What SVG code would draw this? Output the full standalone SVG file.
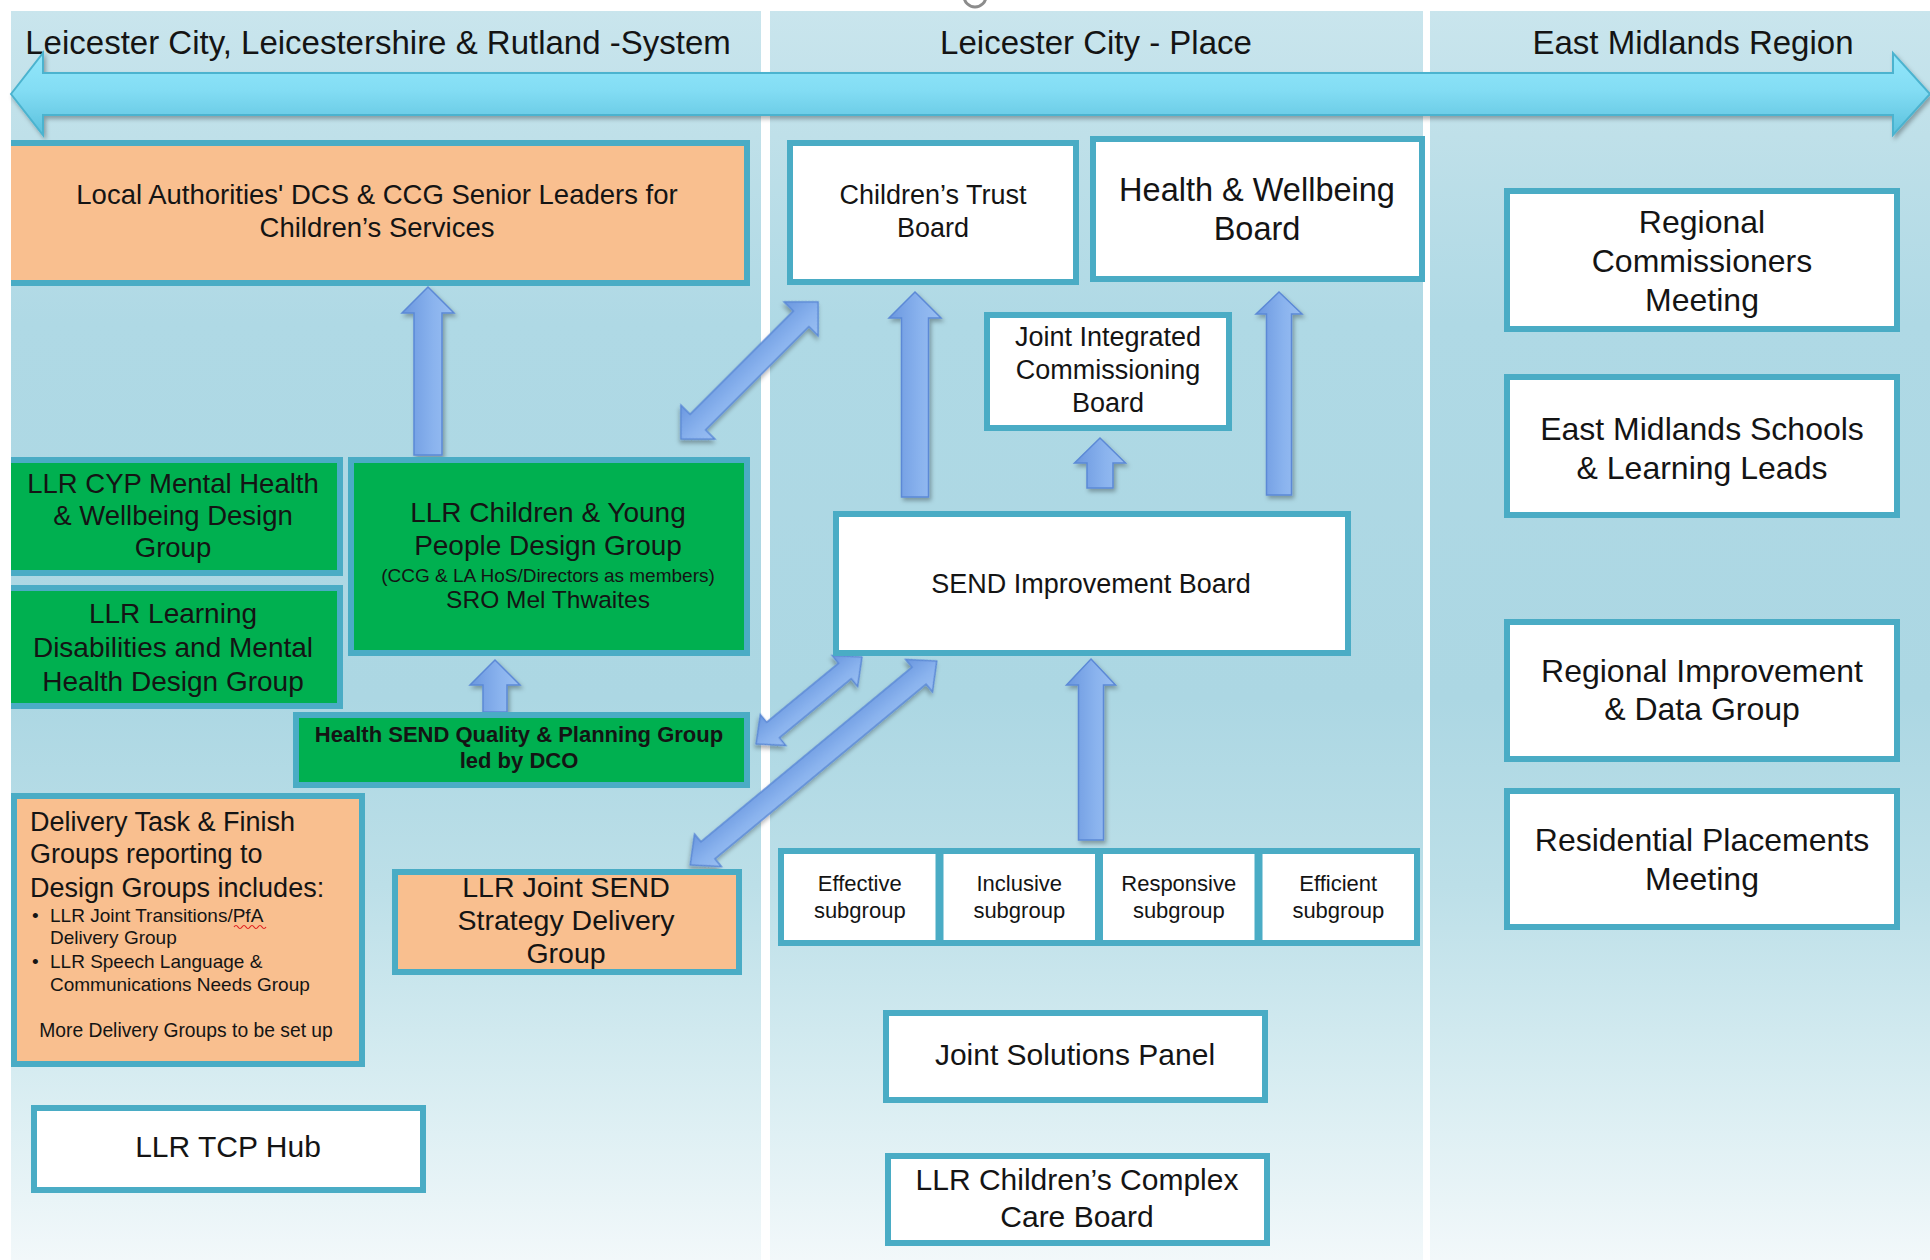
<svg xmlns="http://www.w3.org/2000/svg" width="1930" height="1260" viewBox="0 0 1930 1260">
<defs>
  <linearGradient id="panelGrad" gradientUnits="userSpaceOnUse" x1="0" y1="11" x2="0" y2="1260">
    <stop offset="0" stop-color="#c9e5ed"/>
    <stop offset="0.1" stop-color="#bfe0e9"/>
    <stop offset="0.25" stop-color="#afd9e5"/>
    <stop offset="0.55" stop-color="#acd7e3"/>
    <stop offset="0.7" stop-color="#bcdfe8"/>
    <stop offset="0.85" stop-color="#d6ecf1"/>
    <stop offset="1" stop-color="#f2f8fa"/>
  </linearGradient>
  <linearGradient id="bandGrad" x1="0" y1="0" x2="0" y2="1">
    <stop offset="0" stop-color="#93e7fb"/>
    <stop offset="0.45" stop-color="#83ddf4"/>
    <stop offset="1" stop-color="#5bc1dd"/>
  </linearGradient>
  <linearGradient id="arrowGrad" x1="0" y1="0" x2="1" y2="0">
    <stop offset="0" stop-color="#6a97df"/>
    <stop offset="0.6" stop-color="#8ab3ee"/>
    <stop offset="1" stop-color="#9abff2"/>
  </linearGradient>
  <filter id="shadow" x="-30%" y="-30%" width="160%" height="160%">
    <feDropShadow dx="2" dy="3" stdDeviation="2" flood-color="#000" flood-opacity="0.3"/>
  </filter>
  <clipPath id="clipL"><rect x="11" y="11" width="750" height="1249"/></clipPath>
</defs>
<style>
  .box{stroke:#4aacc5;stroke-width:6}
  .white{fill:#ffffff}
  .orange{fill:#f9bf8f}
  .green{fill:#00b050}
  .t{font-family:"Liberation Sans",Arial,sans-serif;fill:#141414;text-anchor:middle}
  .ts{font-family:"Liberation Sans",Arial,sans-serif;fill:#141414;text-anchor:start}
  .arrow{fill:url(#arrowGrad);stroke:#5b89d6;stroke-width:1.5;filter:url(#shadow)}
</style>

<rect x="0" y="0" width="1930" height="1260" fill="#ffffff"/>

<g id="panels">
  <rect x="11" y="11" width="750" height="1249" fill="url(#panelGrad)"/>
  <rect x="770" y="11" width="653" height="1249" fill="url(#panelGrad)"/>
  <rect x="1430" y="11" width="500" height="1249" fill="url(#panelGrad)"/>
  <circle cx="975" cy="-4" r="11" fill="none" stroke="#8c8c8c" stroke-width="3"/>
</g>

<g id="headers">
  <text class="t" x="378" y="54" font-size="33">Leicester City, Leicestershire &amp; Rutland -System</text>
  <text class="t" x="1096" y="54" font-size="33">Leicester City - Place</text>
  <text class="t" x="1693" y="54" font-size="33">East Midlands Region</text>
</g>

<g id="scope-arrow">
  <polygon points="11,94 43,53 43,73 1893,73 1893,53 1930,94 1893,135 1893,115 43,115 43,135" fill="url(#bandGrad)" stroke="#4cb3cf" stroke-width="2" filter="url(#shadow)"/>
</g>

<g id="connectors">
  <polygon class="arrow" points="428,287 454,313 442,313 442,455 414,455 414,313 402,313"/>
  <polygon class="arrow" points="915,292 941,318 928.5,318 928.5,497 901.5,497 901.5,318 889,318"/>
  <polygon class="arrow" points="1279,292 1302,314 1291.5,314 1291.5,495 1266.5,495 1266.5,314 1256,314"/>
  <polygon class="arrow" points="1100,438 1125.5,463 1113,463 1113,488 1087,488 1087,463 1074.5,463"/>
  <polygon class="arrow" points="1091,659 1115.5,685 1103.5,685 1103.5,840 1078.5,840 1078.5,685 1066.5,685"/>
  <polygon class="arrow" points="495,660 520,685 507,685 507,712 483,712 483,685 470,685"/>
  <polygon class="arrow" transform="translate(749.5,370.5) rotate(45)" points="0,-97 24,-73 11,-73 11,73 24,73 0,97 -24,73 -11,73 -11,-73 -24,-73"/>
  <polygon class="arrow" transform="translate(809,700.5) rotate(50.6)" points="0,-68.5 20,-46.5 10,-46.5 10,46.5 20,46.5 0,68.5 -20,46.5 -10,46.5 -10,-46.5 -20,-46.5"/>
  <polygon class="arrow" transform="translate(813.5,763) rotate(50.4)" points="0,-160 21,-137 11,-137 11,137 21,137 0,160 -21,137 -11,137 -11,-137 -21,-137"/>
</g>

<g id="n-local-authorities" clip-path="url(#clipL)">
  <rect class="box orange" x="6" y="143" width="741" height="140"/>
  <text class="t" x="377" y="204" font-size="27.5">Local Authorities' DCS &amp; CCG Senior Leaders for</text>
  <text class="t" x="377" y="237" font-size="27.5">Children’s Services</text>
</g>

<g id="n-childrens-trust">
  <rect class="box white" x="790" y="143" width="286" height="139"/>
  <text class="t" x="933" y="204" font-size="27">Children’s Trust</text>
  <text class="t" x="933" y="237" font-size="27">Board</text>
</g>

<g id="n-hwb">
  <rect class="box white" x="1093" y="139" width="329" height="140"/>
  <text class="t" x="1257" y="201" font-size="32.5">Health &amp; Wellbeing</text>
  <text class="t" x="1257" y="240" font-size="32.5">Board</text>
</g>

<g id="n-regional-commissioners">
  <rect class="box white" x="1507" y="191" width="390" height="138"/>
  <text class="t" x="1702" y="233" font-size="32">Regional</text>
  <text class="t" x="1702" y="272" font-size="32">Commissioners</text>
  <text class="t" x="1702" y="311" font-size="32">Meeting</text>
</g>

<g id="n-em-schools">
  <rect class="box white" x="1507" y="377" width="390" height="138"/>
  <text class="t" x="1702" y="440" font-size="32">East Midlands Schools</text>
  <text class="t" x="1702" y="479" font-size="32">&amp; Learning Leads</text>
</g>

<g id="n-regional-improvement">
  <rect class="box white" x="1507" y="622" width="390" height="137"/>
  <text class="t" x="1702" y="682" font-size="32">Regional Improvement</text>
  <text class="t" x="1702" y="720" font-size="32">&amp; Data Group</text>
</g>

<g id="n-residential-placements">
  <rect class="box white" x="1507" y="791" width="390" height="136"/>
  <text class="t" x="1702" y="851" font-size="32">Residential Placements</text>
  <text class="t" x="1702" y="890" font-size="32">Meeting</text>
</g>

<g id="n-jicb">
  <rect class="box white" x="987" y="315" width="242" height="113"/>
  <text class="t" x="1108" y="346" font-size="27">Joint Integrated</text>
  <text class="t" x="1108" y="379" font-size="27">Commissioning</text>
  <text class="t" x="1108" y="412" font-size="27">Board</text>
</g>

<g id="n-send-ib">
  <rect class="box white" x="836" y="514" width="512" height="139"/>
  <text class="t" x="1091" y="593" font-size="27">SEND Improvement Board</text>
</g>

<g id="n-sub-effective">
  <rect class="box white" x="781" y="851" width="157.5" height="92"/>
  <text class="t" x="859.75" y="891" font-size="22">Effective</text>
  <text class="t" x="859.75" y="918" font-size="22">subgroup</text>
</g>
<g id="n-sub-inclusive">
  <rect class="box white" x="940.5" y="851" width="157.5" height="92"/>
  <text class="t" x="1019.25" y="891" font-size="22">Inclusive</text>
  <text class="t" x="1019.25" y="918" font-size="22">subgroup</text>
</g>
<g id="n-sub-responsive">
  <rect class="box white" x="1100" y="851" width="157.5" height="92"/>
  <text class="t" x="1178.75" y="891" font-size="22">Responsive</text>
  <text class="t" x="1178.75" y="918" font-size="22">subgroup</text>
</g>
<g id="n-sub-efficient">
  <rect class="box white" x="1259.5" y="851" width="157.5" height="92"/>
  <text class="t" x="1338.25" y="891" font-size="22">Efficient</text>
  <text class="t" x="1338.25" y="918" font-size="22">subgroup</text>
</g>

<g id="n-joint-solutions">
  <rect class="box white" x="886" y="1013" width="379" height="87"/>
  <text class="t" x="1075" y="1065" font-size="30">Joint Solutions Panel</text>
</g>

<g id="n-cccb">
  <rect class="box white" x="888" y="1156" width="379" height="87"/>
  <text class="t" x="1077" y="1190" font-size="30">LLR Children’s Complex</text>
  <text class="t" x="1077" y="1227" font-size="30">Care Board</text>
</g>

<g id="n-cyp-mh" clip-path="url(#clipL)">
  <rect class="box green" x="6" y="460" width="334" height="113"/>
  <text class="t" x="173" y="493" font-size="27.5">LLR CYP Mental Health</text>
  <text class="t" x="173" y="525" font-size="27.5">&amp; Wellbeing Design</text>
  <text class="t" x="173" y="557" font-size="27.5">Group</text>
</g>

<g id="n-ld-mh" clip-path="url(#clipL)">
  <rect class="box green" x="6" y="588" width="334" height="118"/>
  <text class="t" x="173" y="623" font-size="28">LLR Learning</text>
  <text class="t" x="173" y="657" font-size="28">Disabilities and Mental</text>
  <text class="t" x="173" y="691" font-size="28">Health Design Group</text>
</g>

<g id="n-cyp-design">
  <rect class="box green" x="351" y="460" width="396" height="193"/>
  <text class="t" x="548" y="522" font-size="28">LLR Children &amp; Young</text>
  <text class="t" x="548" y="555" font-size="28">People Design Group</text>
  <text class="t" x="548" y="582" font-size="19">(CCG &amp; LA HoS/Directors as members)</text>
  <text class="t" x="548" y="608" font-size="24.5">SRO Mel Thwaites</text>
</g>

<g id="n-health-send">
  <rect class="box green" x="296" y="715" width="451" height="70"/>
  <text class="t" x="519" y="742" font-size="22" font-weight="bold">Health SEND Quality &amp; Planning Group</text>
  <text class="t" x="519" y="768" font-size="22" font-weight="bold">led by DCO</text>
</g>

<g id="n-delivery">
  <rect class="box orange" x="14" y="796" width="348" height="268"/>
  <text class="ts" x="30" y="831" font-size="27">Delivery Task &amp; Finish</text>
  <text class="ts" x="30" y="863" font-size="27">Groups reporting to</text>
  <text class="ts" x="30" y="897" font-size="27">Design Groups includes:</text>
  <text class="ts" x="32" y="922" font-size="19">•</text>
  <text class="ts" x="50" y="922" font-size="19">LLR Joint Transitions/PfA</text>
  <path d="M234,927 q2,-3 4,0 t4,0 t4,0 t4,0 t4,0 t4,0 t4,0 t4,0" fill="none" stroke="#e02020" stroke-width="1.2"/>
  <text class="ts" x="50" y="944" font-size="19">Delivery Group</text>
  <text class="ts" x="32" y="968" font-size="19">•</text>
  <text class="ts" x="50" y="968" font-size="19">LLR Speech Language &amp;</text>
  <text class="ts" x="50" y="991" font-size="19">Communications Needs Group</text>
  <text class="t" x="186" y="1037" font-size="19.3">More Delivery Groups to be set up</text>
</g>

<g id="n-joint-send-strategy">
  <rect class="box orange" x="395" y="872" width="344" height="100"/>
  <text class="t" x="566" y="897" font-size="28.5">LLR Joint SEND</text>
  <text class="t" x="566" y="930" font-size="28.5">Strategy Delivery</text>
  <text class="t" x="566" y="963" font-size="28.5">Group</text>
</g>

<g id="n-tcp-hub">
  <rect class="box white" x="34" y="1108" width="389" height="82"/>
  <text class="t" x="228" y="1157" font-size="30">LLR TCP Hub</text>
</g>
</svg>
